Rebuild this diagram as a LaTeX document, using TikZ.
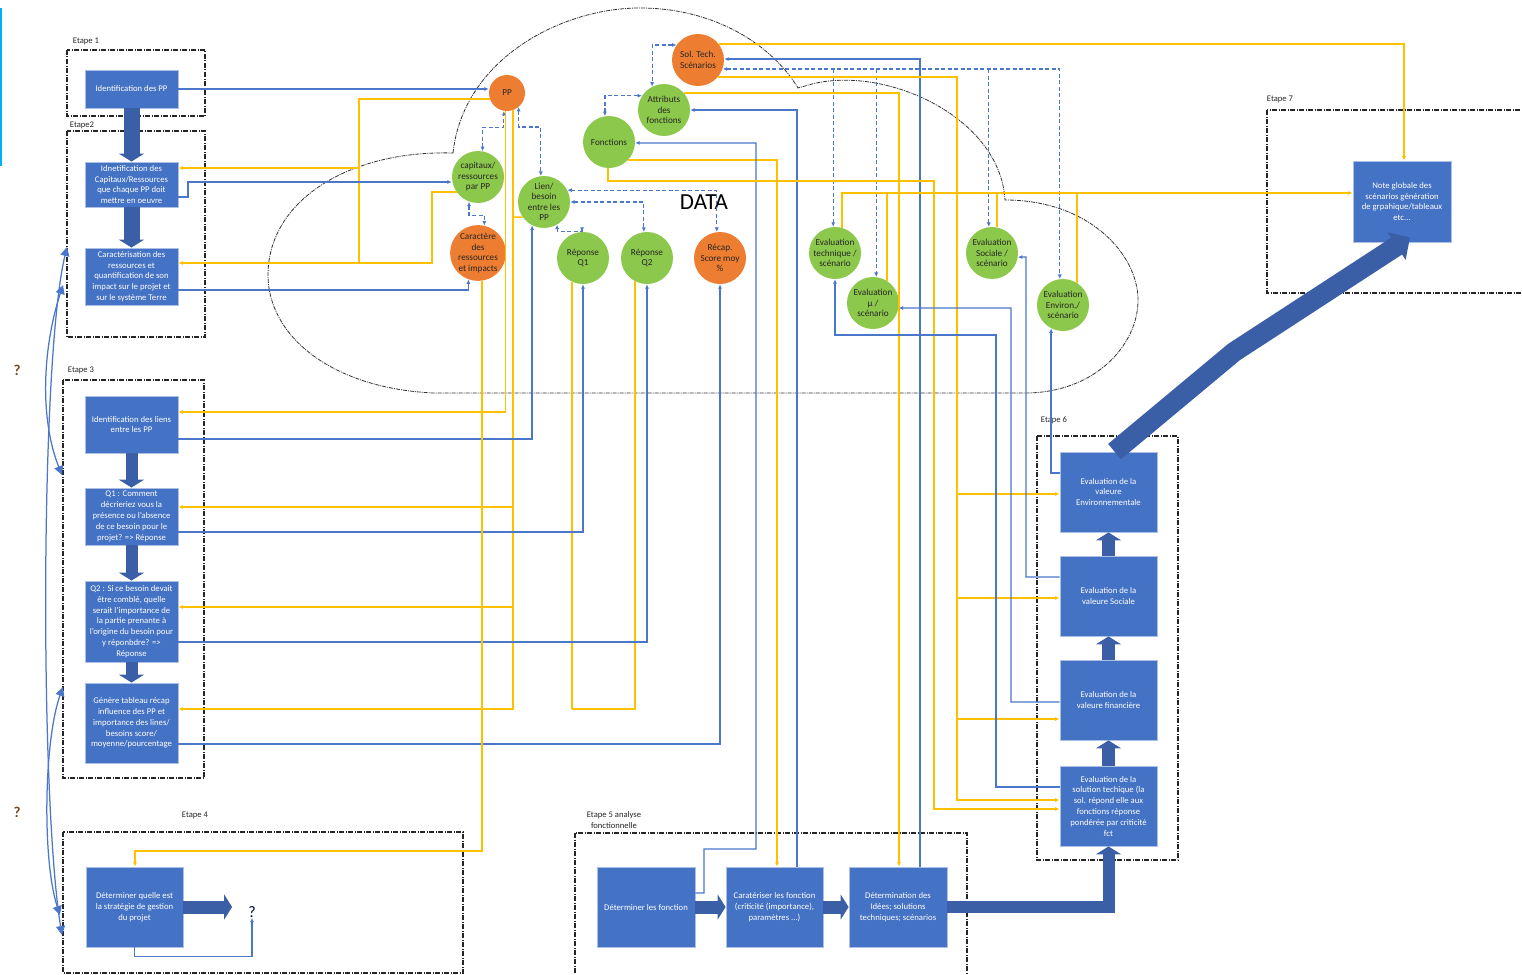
\documentclass[tikz,border=0pt]{standalone}
\usepackage{fontspec}
\setmainfont{Carlito}
\usetikzlibrary{arrows.meta}
\definecolor{boxblue}{HTML}{4472C4}
\definecolor{thkblue}{HTML}{3B5FA6}
\definecolor{lineblue}{HTML}{4A77C9}
\definecolor{ylw}{HTML}{FFC000}
\definecolor{org}{HTML}{ED7D31}
\definecolor{grn}{HTML}{8CC84B}
\definecolor{qbrown}{HTML}{7B4A1C}
\definecolor{cyanbar}{HTML}{00B0F0}
\begin{document}
\begin{tikzpicture}[x=1pt,y=-1pt,
 >={Latex[length=4.5pt,width=4pt]},
 box/.style={draw=boxblue!45!white, line width=0.8pt, fill=boxblue, text=white, align=center, font=\fontsize{8.7}{10.8}\selectfont, inner sep=1pt},
 circg/.style={circle, fill=grn, minimum size=52pt, inner sep=0pt, align=center, font=\fontsize{9.2}{10.5}\selectfont, text=black!85},
 circo/.style={circg, fill=org},
 bl/.style={draw=lineblue, line width=1.25pt},
 yl/.style={draw=ylw, line width=1.5pt},
 ylt/.style={draw=ylw, line width=2.1pt},
 dsh/.style={draw=lineblue, line width=1.2pt, dash pattern=on 4pt off 2.5pt},
 frame/.style={draw=black!85, line width=1.2pt, dash pattern=on 5pt off 1.5pt on 1pt off 1.5pt},
 cloudline/.style={draw=black!80, line width=0.8pt, dash pattern=on 4pt off 1pt on 1pt off 1pt},
 thk/.style={draw=thkblue, line width=#1, -{Triangle[length=8pt,width=25pt]}},
 lbl/.style={font=\fontsize{8.6}{11}\selectfont, text=black!85, inner sep=0pt, align=center},
 curv/.style={draw=lineblue, line width=1.25pt, {Triangle[length=9pt,width=9pt]}-{Triangle[length=9pt,width=9pt]}}
]
\useasboundingbox (0,0) rectangle (1522,974);
\fill[cyanbar] (-2,8) rectangle (2,166);

% cloud
\draw[cloudline] (453,153) .. controls (463,60) and (560,8) .. (640,8)
  .. controls (715,8) and (772,45) .. (798,88) -- (805,86)
  .. controls (880,62) and (1000,115) .. (1005,200)
  .. controls (1090,200) and (1138,255) .. (1138,300)
  .. controls (1138,345) and (1095,393) .. (1025,393) -- (433,393)
  .. controls (330,388) and (268,335) .. (268,275)
  .. controls (268,200) and (350,150) .. (453,153);
\node[font=\fontsize{23}{23}\selectfont, inner sep=0pt] (data) at (704,202) {DATA};

% frames
\draw[frame] (67,50) rectangle (205,116);
\draw[frame] (67,131) rectangle (205,337);
\draw[frame] (63,380) rectangle (204,778);
\draw[frame] (63,832) rectangle (463,973);
\draw[frame] (575,833) rectangle (967,976);
\draw[frame] (1037,436) rectangle (1178,860);
\draw[frame] (1267,110) rectangle (1530,293);
\node[lbl] (l1) at (86,41) {Etape 1};
\node[lbl] (l2) at (82,125) {Etape2};
\node[lbl] (l3) at (81,370) {Etape 3};
\node[lbl] (l4) at (195,815) {Etape 4};
\node[lbl] (l5) at (614,820) {Etape 5 analyse\\fonctionnelle};
\node[lbl] (l6) at (1054,420) {Etape 6};
\node[lbl] (l7) at (1280,99) {Etape 7};

% boxes
\node[box, minimum width=93pt, minimum height=38pt] (b1) at (131.5,89) {Identification des PP};
\node[box, minimum width=93pt, minimum height=45pt] (b2) at (131.5,184.5) {Idnetification des\\Capitaux/Ressources\\que chaque PP doit\\mettre en oeuvre};
\node[box, minimum width=93pt, minimum height=57pt] (b3) at (131.5,276.5) {Caractérisation des\\ressources  et\\quantification de son\\impact sur le projet et\\sur le système Terre};
\node[box, minimum width=93pt, minimum height=57pt] (b4) at (131.5,424.5) {Identification des liens\\entre les PP};
\node[box, minimum width=93pt, minimum height=57pt] (b5) at (131.5,516.5) {Q1 : Comment\\décrieriez vous la\\présence ou l’absence\\de ce besoin pour le\\projet? => Réponse};
\node[box, minimum width=93pt, minimum height=81pt] (b6) at (131.5,621.5) {Q2 : Si ce besoin devait\\être comblé, quelle\\serait l’importance de\\la partie prenante à\\l’origine du besoin pour\\y réponbdre? =>\\Réponse};
\node[box, minimum width=93pt, minimum height=80pt] (b7) at (131.5,723) {Génère tableau récap\\influence des PP et\\importance des lines/\\besoins score/\\moyenne/pourcentage};
\node[box, minimum width=97pt, minimum height=80pt] (b8) at (134.5,907) {Déterminer quelle est\\la stratégie de gestion\\du projet};
\node[box, minimum width=98pt, minimum height=80pt] (b9) at (646,907) {Déterminer les fonction};
\node[box, minimum width=97pt, minimum height=80pt] (b10) at (774.5,907) {Caratériser les fonction\\(criticité (importance),\\paramètres ...)};
\node[box, minimum width=98pt, minimum height=80pt] (b11) at (898,907) {Détermination des\\Idées; solutions\\techniques; scénarios};
\node[box, minimum width=97pt, minimum height=80pt] (e1) at (1108.5,492) {Evaluation de la\\valeure\\Environnementale};
\node[box, minimum width=97pt, minimum height=80pt] (e2) at (1108.5,596) {Evaluation de la\\valeure Sociale};
\node[box, minimum width=97pt, minimum height=80pt] (e3) at (1108.5,700) {Evaluation de la\\valeure financière};
\node[box, minimum width=97pt, minimum height=80pt] (e4) at (1108.5,806) {Evaluation de la\\solution techique (la\\sol. répond elle aux\\fonctions réponse\\pondérée par criticité\\fct};
\node[box, minimum width=98pt, minimum height=81pt] (note) at (1402,201.5) {Note globale des\\scénarios génération\\de grpahique/tableaux\\etc...};

% circles
\node[circo, minimum size=36pt] (PP) at (507,93) {PP};
\node[circo] (Sol) at (698,60) {Sol. Tech.\\Scénarios};
\node[circg] (Attr) at (664,110) {Attributs\\des\\fonctions};
\node[circg] (Fonc) at (609,142) {Fonctions};
\node[circg] (cap) at (478,177) {capitaux/\\ressources\\par PP};
\node[circg] (Lien) at (544,202) {Lien/\\besoin\\entre les\\PP};
\node[circo] (car) at (478,253) {Caractère\\des\\ressources\\et impacts};
\node[circg] (Q1) at (583,258) {Réponse\\Q1};
\node[circg] (Q2) at (647,258) {Réponse\\Q2};
\node[circo] (Rec) at (720,258) {Récap.\\Score moy\\\%};
\node[circg] (Etech) at (835,253) {Evaluation\\technique /\\scénario};
\node[circg] (Emu) at (873,303) {Evaluation\\µ /\\scénario};
\node[circg] (Esoc) at (992,253) {Evaluation\\Sociale /\\scénario};
\node[circg] (Eenv) at (1063,305) {Evaluation\\Environ./\\scénario};

% question marks
\node[font=\fontsize{15}{15}\selectfont\bfseries, text=qbrown] (q1) at (17,370) {?};
\node[font=\fontsize{15}{15}\selectfont\bfseries, text=qbrown] (q2) at (17,812) {?};
\node[font=\fontsize{16}{16}\selectfont, text=black!75!blue, inner sep=0pt] (q3) at (252,912) {?};

% left curves
\coordinate (L1) at (67,247);
\coordinate (L2) at (63,285);
\coordinate (L3) at (62,475);
\coordinate (L4) at (63,687);
\coordinate (L5) at (60,915);
\coordinate (L6) at (62,935);
\draw[curv] (L1) .. controls (40,360) and (40,800) .. (L6);
\draw[curv] (L2) .. controls (42,350) and (40,420) .. (L3);
\draw[curv] (L4) .. controls (44,740) and (42,860) .. (L5);

% thin connectors, left part
\draw[bl,->] (b1.east) -- (b1.east -| PP.west);
\draw[yl,->] (PP.200) -| (359,263) -- (b3.east |- 0,263);
\draw[yl,->] (359,168) -- (b2.east |- 0,168);
\draw[bl,->] (b2.east |- 0,197) -- (188,197) -- (188,182) -- (cap.west |- 0,182);
\draw[yl] (cap.215) -| (432,263) -- (359,263);
\draw[bl,->] (b3.east |- 0,290) -| (car.250);

\draw[yl,->] (PP.265) |- (b4.east |- 0,412);
\draw[ylt,->] (PP.290) |- (b7.east |- 0,709);
\draw[ylt,->] (PP.290 |- 0,507) -- (b5.east |- 0,507);
\draw[ylt,->] (PP.290 |- 0,607) -- (b6.east |- 0,607);
\draw[yl] (Lien.215) -- (PP.290 |- 0,217);
\draw[yl] (Q1.245) -- (Q1.245 |- 0,709);
\draw[yl] (Q2.243) |- (Q1.245 |- 0,709);
\draw[bl,->] (b4.east |- 0,439) -| (Lien.243);
\draw[bl,->] (b5.east |- 0,532) -| (Q1.south);
\draw[bl,->] (b6.east |- 0,642) -| (Q2.south);
\draw[bl,->] (b7.east |- 0,744) -| (Rec.south);
\draw[yl,line width=1.7pt,->] ([xshift=0.4pt]car.277) |- ([xshift=.5pt]b8.north |- 0,851) -- ([xshift=.5pt]b8.north);
\draw[bl,->] (b8.south) -- ++(0,9) -| (q3.south);

% dashed links inside DATA
\draw[dsh,<->] (cap.80) -- ++(0,-24) -| (PP.260);
\draw[dsh,<->] (cap.250) -- ++(0,14) -| (car.77);
\draw[dsh,<->] (PP.310) -- ++(0,20) -| (Lien.97);
\draw[dsh,<->] (Lien.300) -- ++(0,7) -| (Q1.92);
\draw[dsh,<->] (Lien.east) -| (Q2.97);
\draw[dsh,<->] (Lien.27) -| (Rec.97);
\draw[dsh,<->] (Sol.145) -| (Attr.117);
\draw[dsh,<->] (Attr.147) -| (Fonc.99);
\draw[dsh,<->] (Sol.-20) -| (Eenv.97);
\draw[dsh,->] (Etech.94 |- 0,69) -- (Etech.94);
\draw[dsh,->] (Emu.83 |- 0,69) -- (Emu.83);
\draw[dsh,->] (Esoc.97 |- 0,69) -- (Esoc.97);

% right part
\draw[yl,->] (Sol.38) -| ([xshift=2pt]note.north);
\draw[bl,->] ([xshift=22pt]b11.north) |- (Sol.2);
\draw[ylt,->] (Sol.-41) -| (957,800) -- (e4.west |- 0,800);
\draw[yl,->] (957,494) -- (e1.west |- 0,494);
\draw[yl,->] (957,598) -- (e2.west |- 0,598);
\draw[yl,->] (957,719) -- (e3.west |- 0,719);
\draw[yl,->] (Attr.41) -| ([xshift=1pt]b11.north);
\draw[bl,->] ([xshift=22.5pt]b10.north) |- (Attr.east);
\draw[yl,->] (Fonc.-44) -| ([xshift=2.5pt]b10.north);
\draw[bl,->] (b9.east |- 0,893) -- (704,893) -- (704,849) -| (756,143) -- (Fonc.-2);
\draw[yl,->] (Fonc.268) |- (934,181) -- (934,809) -- (e4.west |- 0,809);

\draw[ylt,->] (Etech.74) |- (note.west |- 0,193);
\draw[yl] ([xshift=-0.16pt]Emu.57) -- ([xshift=-0.16pt]Emu.57 |- 0,193);
\draw[yl] (Esoc.79) -- (Esoc.79 |- 0,193);
\draw[yl] ([xshift=-0.16pt]Eenv.57) -- ([xshift=-0.16pt]Eenv.57 |- 0,193);

\draw[bl,->] (e4.west |- 0,787) -| (996,335) -| (Etech.south);
\draw[bl,->] (e3.west |- 0,702) -| (1011,308) -- (Emu.-11);
\draw[bl,->] (e2.west |- 0,577) -| (1026,257) -- (Esoc.-9);
\draw[bl,->] (e1.west |- 0,473) -| (Eenv.243);

% thick arrows
\draw[thk=16pt] (b1.south) -- (b2.north);
\draw[thk=16pt] (b2.south) -- (b3.north);
\draw[thk=12pt] (b4.south) -- (b5.north);
\draw[thk=12pt] (b5.south) -- (b6.north);
\draw[thk=12pt] (b6.south) -- (b7.north);
\draw[thk=13pt] (e4.north) -- (e3.south);
\draw[thk=13pt] (e3.north) -- (e2.south);
\draw[thk=13pt] (e2.north) -- (e1.south);
\draw[thk=13pt, shorten >=16pt] (b8.east) -- (b8.east -| q3.west);
\draw[thk=13pt] (b9.east) -- (b10.west);
\draw[thk=13pt] (b10.east) -- (b11.west);
\draw[thk=12pt] (b11.east) -| (e4.south);
\draw[draw=thkblue, line width=20pt, -{Triangle[length=16pt,width=32pt]}] ([xshift=6pt]e1.north) -- (1234,352) -- ([shift={(8pt,5pt)}]note.south);
\end{tikzpicture}
\end{document}
